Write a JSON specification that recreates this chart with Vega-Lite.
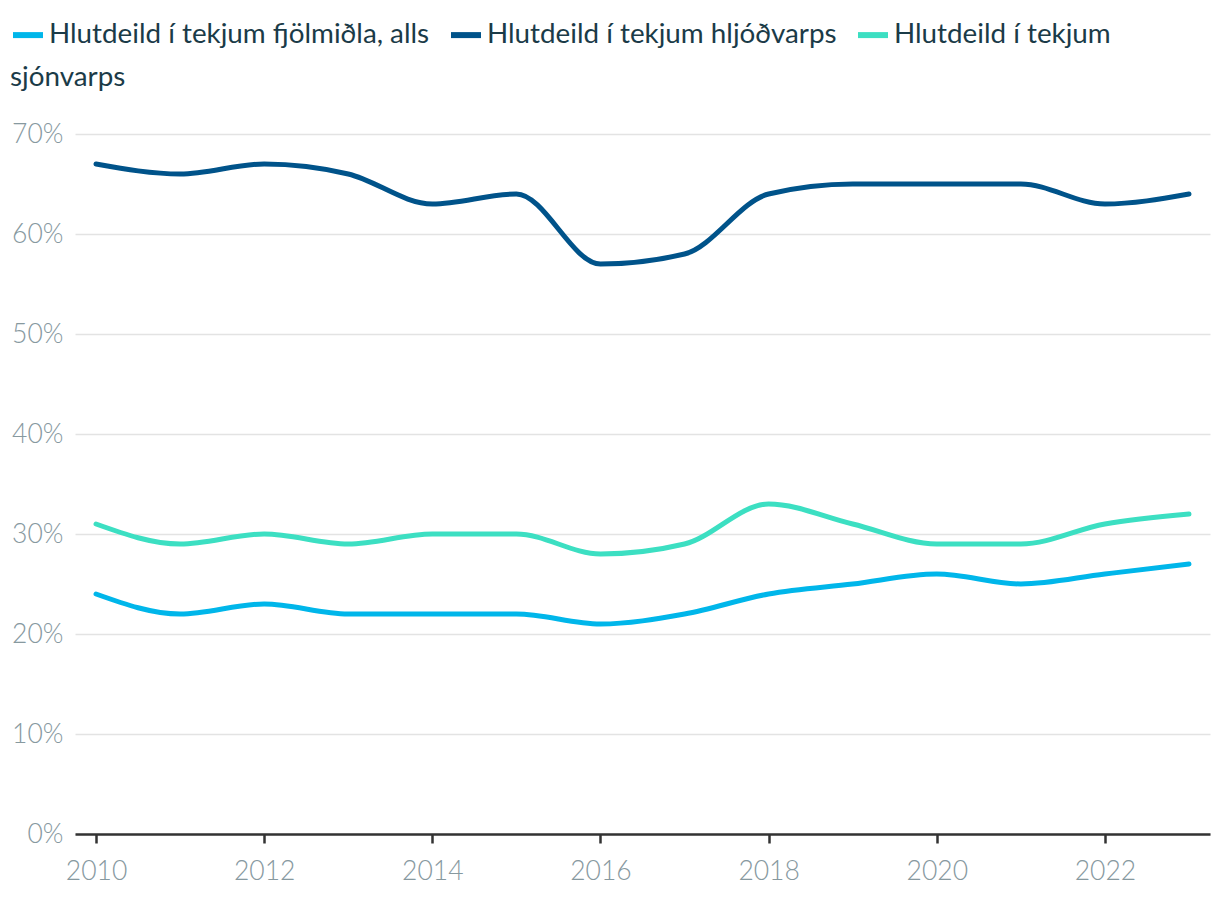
{
  "$schema": "https://vega.github.io/schema/vega-lite/v6.json",
  "autosize": "none",
  "width": 1135,
  "height": 700,
  "padding": {"left": 75, "top": 134, "right": 10, "bottom": 66},
  "config": {
    "font": "Lato",
    "view": {"stroke": null}
  },
  "data": {
    "values": [
      {"year": 2010, "s": "Hlutdeild í tekjum fjölmiðla, alls", "v": 0.24},
      {"year": 2011, "s": "Hlutdeild í tekjum fjölmiðla, alls", "v": 0.22},
      {"year": 2012, "s": "Hlutdeild í tekjum fjölmiðla, alls", "v": 0.23},
      {"year": 2013, "s": "Hlutdeild í tekjum fjölmiðla, alls", "v": 0.22},
      {"year": 2014, "s": "Hlutdeild í tekjum fjölmiðla, alls", "v": 0.22},
      {"year": 2015, "s": "Hlutdeild í tekjum fjölmiðla, alls", "v": 0.22},
      {"year": 2016, "s": "Hlutdeild í tekjum fjölmiðla, alls", "v": 0.21},
      {"year": 2017, "s": "Hlutdeild í tekjum fjölmiðla, alls", "v": 0.22},
      {"year": 2018, "s": "Hlutdeild í tekjum fjölmiðla, alls", "v": 0.24},
      {"year": 2019, "s": "Hlutdeild í tekjum fjölmiðla, alls", "v": 0.25},
      {"year": 2020, "s": "Hlutdeild í tekjum fjölmiðla, alls", "v": 0.26},
      {"year": 2021, "s": "Hlutdeild í tekjum fjölmiðla, alls", "v": 0.25},
      {"year": 2022, "s": "Hlutdeild í tekjum fjölmiðla, alls", "v": 0.26},
      {"year": 2023, "s": "Hlutdeild í tekjum fjölmiðla, alls", "v": 0.27},
      {"year": 2010, "s": "Hlutdeild í tekjum hljóðvarps", "v": 0.67},
      {"year": 2011, "s": "Hlutdeild í tekjum hljóðvarps", "v": 0.66},
      {"year": 2012, "s": "Hlutdeild í tekjum hljóðvarps", "v": 0.67},
      {"year": 2013, "s": "Hlutdeild í tekjum hljóðvarps", "v": 0.66},
      {"year": 2014, "s": "Hlutdeild í tekjum hljóðvarps", "v": 0.63},
      {"year": 2015, "s": "Hlutdeild í tekjum hljóðvarps", "v": 0.64},
      {"year": 2016, "s": "Hlutdeild í tekjum hljóðvarps", "v": 0.57},
      {"year": 2017, "s": "Hlutdeild í tekjum hljóðvarps", "v": 0.58},
      {"year": 2018, "s": "Hlutdeild í tekjum hljóðvarps", "v": 0.64},
      {"year": 2019, "s": "Hlutdeild í tekjum hljóðvarps", "v": 0.65},
      {"year": 2020, "s": "Hlutdeild í tekjum hljóðvarps", "v": 0.65},
      {"year": 2021, "s": "Hlutdeild í tekjum hljóðvarps", "v": 0.65},
      {"year": 2022, "s": "Hlutdeild í tekjum hljóðvarps", "v": 0.63},
      {"year": 2023, "s": "Hlutdeild í tekjum hljóðvarps", "v": 0.64},
      {"year": 2010, "s": "Hlutdeild í tekjum sjónvarps", "v": 0.31},
      {"year": 2011, "s": "Hlutdeild í tekjum sjónvarps", "v": 0.29},
      {"year": 2012, "s": "Hlutdeild í tekjum sjónvarps", "v": 0.30},
      {"year": 2013, "s": "Hlutdeild í tekjum sjónvarps", "v": 0.29},
      {"year": 2014, "s": "Hlutdeild í tekjum sjónvarps", "v": 0.30},
      {"year": 2015, "s": "Hlutdeild í tekjum sjónvarps", "v": 0.30},
      {"year": 2016, "s": "Hlutdeild í tekjum sjónvarps", "v": 0.28},
      {"year": 2017, "s": "Hlutdeild í tekjum sjónvarps", "v": 0.29},
      {"year": 2018, "s": "Hlutdeild í tekjum sjónvarps", "v": 0.33},
      {"year": 2019, "s": "Hlutdeild í tekjum sjónvarps", "v": 0.31},
      {"year": 2020, "s": "Hlutdeild í tekjum sjónvarps", "v": 0.29},
      {"year": 2021, "s": "Hlutdeild í tekjum sjónvarps", "v": 0.29},
      {"year": 2022, "s": "Hlutdeild í tekjum sjónvarps", "v": 0.31},
      {"year": 2023, "s": "Hlutdeild í tekjum sjónvarps", "v": 0.32}
    ]
  },
  "mark": {"type": "line", "interpolate": "monotone", "strokeWidth": 5, "strokeCap": "round", "strokeJoin": "round"},
  "encoding": {
    "x": {
      "field": "year", "type": "quantitative",
      "scale": {"domain": [2009.75, 2023.25], "nice": false, "zero": false},
      "axis": {
        "values": [2010, 2012, 2014, 2016, 2018, 2020, 2022],
        "format": "d",
        "title": null,
        "grid": false,
        "domainColor": "#333333", "domainWidth": 2.5,
        "tickColor": "#333333", "tickWidth": 2.5, "tickSize": 9,
        "labelFont": "Lato", "labelFontWeight": 300, "labelFontSize": 26.5, "labelColor": "#87999f",
        "labelPadding": 15
      }
    },
    "y": {
      "field": "v", "type": "quantitative",
      "scale": {"domain": [0, 0.7], "nice": false},
      "axis": {
        "values": [0, 0.1, 0.2, 0.3, 0.4, 0.5, 0.6, 0.7],
        "format": ".0%",
        "title": null,
        "domain": false, "ticks": false,
        "gridColor": "#e3e3e3", "gridWidth": 1.5,
        "labelFont": "Lato", "labelFontWeight": 300, "labelFontSize": 26.5, "labelColor": "#87999f",
        "labelPadding": 12
      }
    },
    "color": {
      "field": "s", "type": "nominal",
      "scale": {
        "domain": ["Hlutdeild í tekjum fjölmiðla, alls", "Hlutdeild í tekjum hljóðvarps", "Hlutdeild í tekjum sjónvarps"],
        "range": ["#00b6ea", "#00538a", "#3cdfc2"]
      },
      "legend": {
        "orient": "none",
        "legendX": -65,
        "legendY": -117,
        "direction": "horizontal",
        "columns": 3,
        "title": "sjónvarps",
        "titleOrient": "bottom",
        "titleAnchor": "start",
        "titleFont": "Lato",
        "titleFontSize": 27.8,
        "titleFontWeight": 400,
        "titleColor": "#1b3b48",
        "titlePadding": 15,
        "labelExpr": "replace(datum.label, ' sjónvarps', '')",
        "labelFont": "Lato",
        "labelFontSize": 27.8,
        "labelColor": "#1b3b48",
        "labelLimit": 600,
        "labelOffset": 3,
        "symbolType": "stroke",
        "symbolSize": 900,
        "symbolStrokeWidth": 6,
        "columnPadding": 9
      }
    }
  }
}
